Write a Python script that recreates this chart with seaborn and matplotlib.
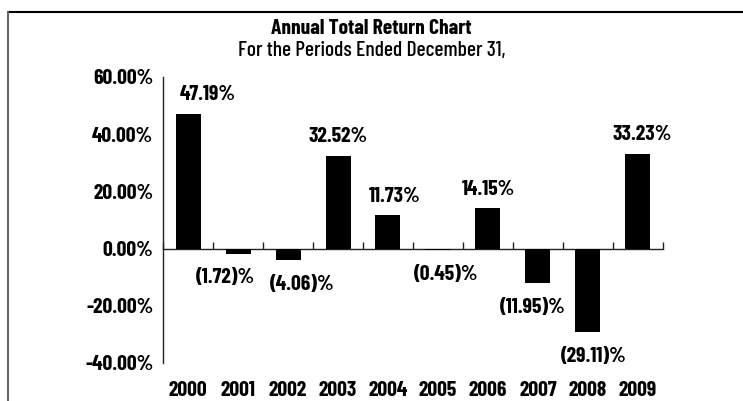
import numpy as np
import pandas as pd
import matplotlib
matplotlib.use("Agg")
import matplotlib.pyplot as plt
from matplotlib.lines import Line2D
import seaborn as sns

years = ["2000", "2001", "2002", "2003", "2004", "2005", "2006", "2007", "2008", "2009"]
returns = [47.19, -1.72, -4.06, 32.52, 11.73, -0.45, 14.15, -11.95, -29.11, 33.23]
y_ticks = [-40, -20, 0, 20, 40, 60]

# small sideways shifts of the value labels (points), as in the original
label_dx = [14, -9, 10, 0, 5, 6, 0, -4, 4, 3]

sns.set_style("white")
plt.rcParams['font.family'] = ['Barlow Condensed', 'Liberation Sans', 'DejaVu Sans']
plt.rcParams['text.color'] = 'black'
plt.rcParams['xtick.color'] = 'black'
plt.rcParams['ytick.color'] = 'black'

df = pd.DataFrame({'year': years, 'ret': returns})

fig = plt.figure(figsize=(7.43, 4.01), dpi=100)
ax = fig.add_axes([0.2194, 0.0948, 0.6729, 0.7132])

sns.barplot(data=df, x='year', y='ret', color='black', width=0.5,
            saturation=1, ax=ax, edgecolor='none')

ax.set_xlim(-0.5, len(years) - 0.5)
ax.set_ylim(-40, 60)
ax.set_xlabel('')
ax.set_ylabel('')

fs = 15.5
bold = 700

# y axis: only left spine, inward ticks
for s in ['top', 'right', 'bottom']:
    ax.spines[s].set_visible(False)
ax.spines['left'].set_color('#222222')
ax.spines['left'].set_linewidth(1.0)
ax.set_yticks(y_ticks)
ax.set_yticklabels(['%.2f%%' % v for v in y_ticks])
ax.tick_params(axis='y', direction='in', length=6, width=1, pad=7,
               labelsize=fs, color='#222222')
for lab in ax.get_yticklabels():
    lab.set_fontweight(bold)

# year labels under the plot
ax.tick_params(axis='x', length=0, pad=13, labelsize=fs)
for lab in ax.get_xticklabels():
    lab.set_fontweight(bold)

# zero line with category boundary ticks
sec = ax.secondary_xaxis(0.4)
sec.set_xticks(np.arange(len(years) + 1) - 0.5)
sec.set_xticklabels([])
sec.tick_params(direction='in', length=5, width=1, colors='#222222')
sec.spines['bottom'].set_linewidth(1.0)
sec.spines['bottom'].set_color('#222222')

# value labels
for i, v in enumerate(returns):
    if v >= 0:
        txt = '%.2f%%' % v
        off = 13.5
    else:
        txt = '(%.2f)%%' % abs(v)
        off = -17.5
    ax.annotate(txt, (i, v), xytext=(label_dx[i], off), textcoords='offset points',
                ha='center', va='center', fontsize=fs, fontweight=bold)

fig.text(0.5, 0.93, 'Annual Total Return Chart', ha='center', va='center',
         fontsize=fs, fontweight=bold)
fig.text(0.5, 0.873, 'For the Periods Ended December 31,', ha='center',
         va='center', fontsize=fs, fontweight=500)

# outer frame: top and left edges
fig.add_artist(Line2D([0.0101, 1.0], [0.9713, 0.9713], transform=fig.transFigure,
                      color='black', lw=1.5))
fig.add_artist(Line2D([0.0101, 0.0101], [0.0, 0.9713], transform=fig.transFigure,
                      color='#666666', lw=1.5))

fig.savefig('out.png', dpi=100)
